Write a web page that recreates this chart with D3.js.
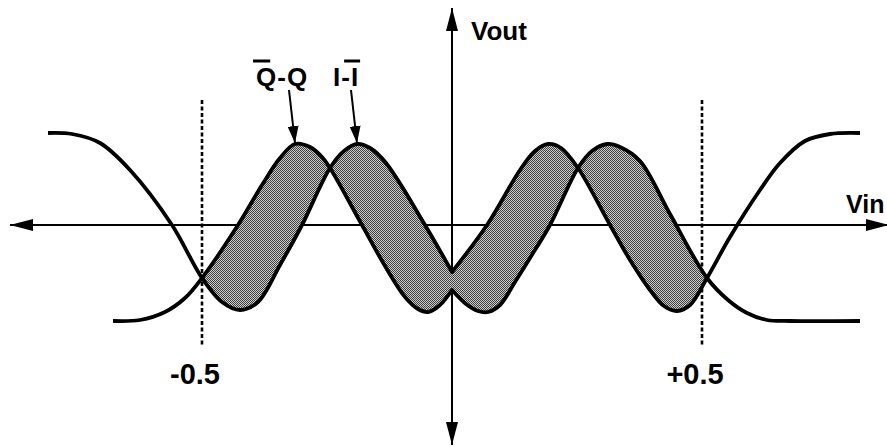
<!DOCTYPE html>
<html>
<head>
<meta charset="utf-8">
<script src="https://cdn.jsdelivr.net/npm/d3@7"></script>
<style>
  body { margin: 0; background: #fff; }
  text { font-family: "Liberation Sans", Arial, sans-serif; font-weight: bold; fill: #000; }
</style>
</head>
<body>
<div id="chart"></div>
<script>
const width = 887;
const height = 447;

// I - I(bar) transfer curve (Vin, Vout)
const iiLeftVin = [-0.808, -0.76, -0.704, -0.644, -0.56, -0.5, -0.46, -0.424, -0.388, -0.344, -0.30, -0.244, -0.216, -0.19, -0.164, -0.132, -0.054, 0];
const iiLeftVout = [0.92, 0.91, 0.82, 0.55, 0.0, -0.53, -0.77, -0.85, -0.77, -0.40, 0.0, 0.57, 0.74, 0.81, 0.77, 0.62, 0.0, -0.47];
const iiRightVin = [0, 0.07, 0.136, 0.166, 0.192, 0.218, 0.252, 0.316, 0.356, 0.396, 0.424, 0.45, 0.476, 0.51, 0.556, 0.616, 0.656, 0.706, 0.756, 0.816];
const iiRightVout = [-0.47, 0.0, 0.55, 0.74, 0.81, 0.77, 0.57, 0.0, -0.35, -0.65, -0.81, -0.86, -0.80, -0.53, -0.12, 0.35, 0.62, 0.84, 0.91, 0.92];

// Q(bar) - Q transfer curve
const qqLeftVin = [-0.678, -0.624, -0.574, -0.534, -0.5, -0.428, -0.38, -0.344, -0.314, -0.284, -0.26, -0.244, -0.18, -0.134, -0.094, -0.068, -0.048, -0.024, 0];
const qqLeftVout = [-0.96, -0.95, -0.87, -0.73, -0.53, 0.0, 0.40, 0.67, 0.81, 0.78, 0.68, 0.57, 0.0, -0.41, -0.72, -0.84, -0.87, -0.80, -0.65];
const qqRightVin = [0, 0.028, 0.052, 0.072, 0.096, 0.126, 0.156, 0.196, 0.252, 0.28, 0.31, 0.336, 0.376, 0.436, 0.51, 0.552, 0.59, 0.63, 0.676, 0.816];
const qqRightVout = [-0.65, -0.79, -0.86, -0.87, -0.80, -0.57, -0.33, 0.0, 0.57, 0.74, 0.81, 0.78, 0.64, 0.11, -0.53, -0.75, -0.88, -0.95, -0.96, -0.96];

// where the two curves cross at the band ends
const crossVin = [-0.5, 0.51];
// threshold markers
const markVin = [-0.5, 0.5];
const markLabels = ["-0.5", "+0.5"];
const markSpan = [1.25, -1.2];
// axis extents
const vinExtent = [-0.884, 0.874];
const voutExtent = [-2.2, 2.17];

const svg = d3
  .select("#chart")
  .append("svg")
  .attr("width", width)
  .attr("height", height);

const xScale = d3.scaleLinear().domain([-0.5, 0.5]).range([202, 702]);
const yScale = d3.scaleLinear().domain([-1, 1]).range([325, 125]);

const defs = svg.append("defs");

// halftone style shading
const pat = defs
  .append("pattern")
  .attr("id", "dots")
  .attr("width", 2)
  .attr("height", 2)
  .attr("patternUnits", "userSpaceOnUse");
pat.append("rect").attr("width", 2).attr("height", 2).attr("fill", "#cccccc");
pat.append("rect").attr("width", 1).attr("height", 1).attr("fill", "#404040");
pat.append("rect").attr("x", 1).attr("y", 1).attr("width", 1).attr("height", 1).attr("fill", "#404040");

// arrow heads
const arrow = (id, len, half) => {
  defs
    .append("marker")
    .attr("id", id)
    .attr("markerUnits", "userSpaceOnUse")
    .attr("viewBox", `0 ${-half} ${len} ${half * 2}`)
    .attr("refX", len)
    .attr("refY", 0)
    .attr("markerWidth", len)
    .attr("markerHeight", half * 2)
    .attr("orient", "auto")
    .append("path")
    .attr("d", `M0,${-half}L${len},0L0,${half}Z`)
    .attr("fill", "#000");
};
arrow("axisHead", 23, 6);
arrow("labelHead", 17, 5.5);

// axes
const y0 = yScale(0);
svg.append("line")
  .attr("x1", xScale(0) + 20)
  .attr("x2", xScale(vinExtent[0]))
  .attr("y1", y0).attr("y2", y0)
  .attr("stroke", "#000").attr("stroke-width", 2)
  .attr("marker-end", "url(#axisHead)");
svg.append("line")
  .attr("x1", xScale(0) - 20)
  .attr("x2", xScale(vinExtent[1]))
  .attr("y1", y0).attr("y2", y0)
  .attr("stroke", "#000").attr("stroke-width", 2)
  .attr("marker-end", "url(#axisHead)");
svg.append("line")
  .attr("x1", xScale(0)).attr("x2", xScale(0))
  .attr("y1", y0 + 20).attr("y2", yScale(voutExtent[1]))
  .attr("stroke", "#000").attr("stroke-width", 2)
  .attr("marker-end", "url(#axisHead)");
svg.append("line")
  .attr("x1", xScale(0)).attr("x2", xScale(0))
  .attr("y1", y0 - 20).attr("y2", yScale(voutExtent[0]))
  .attr("stroke", "#000").attr("stroke-width", 2)
  .attr("marker-end", "url(#axisHead)");

// dashed threshold lines + labels
svg.selectAll(".mark")
  .data(markVin)
  .enter()
  .append("line")
  .attr("class", "mark")
  .attr("x1", (d) => xScale(d)).attr("x2", (d) => xScale(d))
  .attr("y1", yScale(markSpan[0])).attr("y2", yScale(markSpan[1]))
  .attr("stroke", "#000")
  .attr("stroke-width", 2.6)
  .attr("stroke-dasharray", "4,2.5");

svg.selectAll(".markLabel")
  .data(markVin)
  .enter()
  .append("text")
  .attr("class", "markLabel")
  .attr("x", (d) => xScale(d) - 7)
  .attr("y", 384)
  .attr("text-anchor", "middle")
  .style("font-size", "29px")
  .text((d, i) => markLabels[i]);

// curves
const line = d3
  .line()
  .x((d) => xScale(d[0]))
  .y((d) => yScale(d[1]))
  .curve(d3.curveCatmullRom.alpha(0.5));

// two halves joined so the centre keeps its pointed cusp
const curvePath = (lv, lo, rv, ro) =>
  line(d3.zip(lv, lo)) + line(d3.zip(rv, ro)).replace(/^M/, "L");

const iiPath = curvePath(iiLeftVin, iiLeftVout, iiRightVin, iiRightVout);
const qqPath = curvePath(qqLeftVin, qqLeftVout, qqRightVin, qqRightVout);

// region between the curves = below one xor below the other
const below = (p, x0, x1) => `${p}L${xScale(x1)},${height}L${xScale(x0)},${height}Z`;

defs.append("clipPath")
  .attr("id", "band")
  .append("rect")
  .attr("x", xScale(crossVin[0]))
  .attr("width", xScale(crossVin[1]) - xScale(crossVin[0]))
  .attr("y", 0)
  .attr("height", height);

svg.append("path")
  .attr("d", below(iiPath, iiLeftVin[0], iiRightVin[iiRightVin.length - 1]) +
    below(qqPath, qqLeftVin[0], qqRightVin[qqRightVin.length - 1]))
  .attr("fill", "url(#dots)")
  .attr("fill-rule", "evenodd")
  .attr("clip-path", "url(#band)");

svg.selectAll(".curve")
  .data([iiPath, qqPath])
  .enter()
  .append("path")
  .attr("class", "curve")
  .attr("d", (d) => d)
  .attr("fill", "none")
  .attr("stroke", "#000")
  .attr("stroke-width", 3.8)
  .attr("stroke-linejoin", "round");

// axis titles
svg.append("text").attr("x", 471).attr("y", 40).style("font-size", "26px").text("Vout");
svg.append("text").attr("x", 846).attr("y", 213).style("font-size", "25px").text("Vin");

// curve labels with overbars
const qLabel = svg.append("text").attr("x", 256).attr("y", 86).style("font-size", "26px").style("letter-spacing", "1px").text("Q-Q");
const qW = qLabel.node().getSubStringLength(0, 1);
svg.append("line")
  .attr("x1", 253).attr("x2", 253 + qW - 4)
  .attr("y1", 61).attr("y2", 61)
  .attr("stroke", "#000").attr("stroke-width", 3);

const iLabel = svg.append("text").attr("x", 333).attr("y", 86).style("font-size", "26px").style("letter-spacing", "1px").text("I-I");
const iEnd = 333 + iLabel.node().getComputedTextLength();
svg.append("line")
  .attr("x1", iEnd - 15).attr("x2", iEnd + 1)
  .attr("y1", 61).attr("y2", 61)
  .attr("stroke", "#000").attr("stroke-width", 3);

// pointers to the curve peaks
const pointers = [[-0.314, 0.81], [-0.19, 0.81]];
const pointerStart = [289, 351];
svg.selectAll(".pointer")
  .data(pointers)
  .enter()
  .append("line")
  .attr("class", "pointer")
  .attr("x1", (d, i) => pointerStart[i])
  .attr("y1", 90)
  .attr("x2", (d) => xScale(d[0]))
  .attr("y2", (d) => yScale(d[1]) - 1)
  .attr("stroke", "#000")
  .attr("stroke-width", 2)
  .attr("marker-end", "url(#labelHead)");
</script>
</body>
</html>
